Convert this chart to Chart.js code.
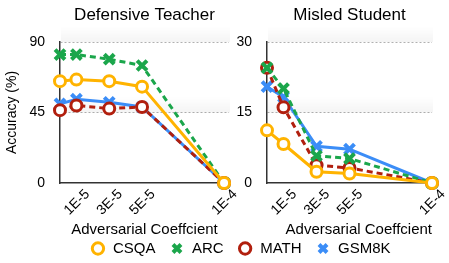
<!DOCTYPE html>
<html>
<head>
<meta charset="utf-8">
<script src="https://cdn.jsdelivr.net/npm/chart.js@4.4.0/dist/chart.umd.min.js"></script>
<style>
  body { margin: 0; background: #fff; width: 449px; height: 263px; position: relative; overflow: hidden; }
  canvas { position: absolute; }
  #teacher { left: 0; top: 0; }
  #student { left: 228px; top: 0; }
  #legend { left: 0; top: 227px; }
</style>
</head>
<body>
<canvas id="teacher" width="240" height="240"></canvas>
<canvas id="student" width="221" height="240"></canvas>
<canvas id="legend" width="449" height="80"></canvas>
<script>
// x positions of the points and the labelled ticks
const xValues = [0, 1e-5, 3e-5, 5e-5, 1e-4];
const xTickValues = [1e-5, 3e-5, 5e-5, 1e-4];
const xTickLabels = ['1E-5', '3E-5', '5E-5', '1E-4'];
const seriesNames = ['CSQA', 'ARC', 'MATH', 'GSM8K'];

// Defensive Teacher
const teacherTicks = [0, 45, 90];
const teacherCsqa = [65, 66, 65, 61.5, 0];
const teacherArc = [82, 82, 79, 75, 0];
const teacherMath = [46.5, 49.5, 47.5, 48.5, 0];
const teacherGsm = [50.5, 53.5, 51.5, 48.5, 0];

// Misled Student
const studentTicks = [0, 15, 30];
const studentCsqa = [11.2, 8.3, 2.4, 2.0, 0];
const studentArc = [24.5, 20.1, 5.8, 5.2, 0];
const studentMath = [24.5, 16.1, 3.8, 3.2, 0];
const studentGsm = [20.5, 18.3, 7.8, 7.2, 0];

const FONT = "'Liberation Sans', Arial, Helvetica, sans-serif";
Chart.defaults.font.family = FONT;
Chart.defaults.color = '#000';

const seriesStyle = {
    CSQA:  { color: '#FFB300', dash: [], point: 'circle' },
    ARC:   { color: '#1BA64B', dash: [6, 4], point: 'crossRot' },
    MATH:  { color: '#B11F0E', dash: [6, 4], point: 'circle' },
    GSM8K: { color: '#3B8DF7', dash: [], point: 'crossRot' }
};

// faint grey shading just above each grid line, as in the original figure
const gridShade = {
    id: 'gridShade',
    beforeDatasetsDraw(chart) {
        const { ctx, chartArea, scales } = chart;
        const y = scales.y;
        ctx.save();
        y.ticks.forEach(t => {
            if (t.value <= 0) return;
            const py = y.getPixelForValue(t.value);
            const g = ctx.createLinearGradient(0, py - 16, 0, py);
            g.addColorStop(0, 'rgba(0,0,0,0)');
            g.addColorStop(1, 'rgba(0,0,0,0.045)');
            ctx.fillStyle = g;
            ctx.fillRect(chartArea.left + 1, py - 16, chartArea.right - chartArea.left, 16);
        });
        ctx.restore();
    }
};

function makeDataset(name, values) {
    const st = seriesStyle[name];
    const isCircle = st.point === 'circle';
    return {
        label: name,
        data: xValues.map((x, i) => ({ x: x, y: values[i] })),
        borderColor: st.color,
        borderWidth: 3,
        borderDash: st.dash,
        pointStyle: st.point,
        pointRadius: isCircle ? 5.5 : 7,
        pointBorderWidth: isCircle ? 3 : 4,
        pointBorderColor: st.color,
        pointBackgroundColor: isCircle ? '#fff' : st.color,
        tension: 0,
        clip: false
    };
}

function makeChart(id, title, series, yTicks, opts) {
    const ctx = document.getElementById(id).getContext('2d');
    return new Chart(ctx, {
        type: 'line',
        data: {
            datasets: seriesNames.map((n, i) => makeDataset(n, series[i]))
        },
        plugins: [gridShade],
        options: {
            responsive: false,
            animation: false,
            devicePixelRatio: 1,
            layout: { padding: { left: 0, right: opts.padRight, top: 0, bottom: 0 } },
            scales: {
                x: {
                    type: 'linear',
                    min: 0,
                    max: opts.xMax,
                    afterBuildTicks: s => { s.ticks = xTickValues.map(v => ({ value: v })); },
                    afterFit: s => { s.height = 57; },
                    grid: { display: false, drawTicks: false },
                    border: { display: true, color: '#333', width: 1.5 },
                    ticks: {
                        autoSkip: false,
                        minRotation: 45,
                        maxRotation: 45,
                        padding: 3,
                        labelOffset: 11,
                        font: { size: 14 },
                        callback: (v, i) => xTickLabels[i]
                    },
                    title: {
                        display: true,
                        text: 'Adversarial Coeffcient',
                        align: opts.xTitleAlign,
                        font: { size: 15 },
                        padding: { top: 0, bottom: 1 }
                    }
                },
                y: {
                    min: 0,
                    max: yTicks[yTicks.length - 1],
                    afterBuildTicks: s => { s.ticks = yTicks.map(v => ({ value: v })); },
                    afterFit: s => { s.width = opts.yWidth; },
                    grid: {
                        drawTicks: false,
                        color: c => (c.tick && c.tick.value > 0) ? '#b0b0b0' : 'rgba(0,0,0,0)',
                        lineWidth: 1
                    },
                    border: { display: true, color: '#333', width: 1.5, dash: [2, 2] },
                    ticks: { padding: 15, font: { size: 14 } },
                    title: {
                        display: opts.yTitle,
                        text: 'Accuracy (%)',
                        font: { size: 14 },
                        padding: { top: 4, bottom: 0 }
                    }
                }
            },
            plugins: {
                legend: { display: false },
                tooltip: { enabled: false },
                title: {
                    display: true,
                    text: title,
                    fullSize: false,
                    color: '#000',
                    font: { size: 17, weight: 'normal' },
                    padding: { top: 5, bottom: 16.6 }
                }
            }
        }
    });
}

makeChart('teacher', 'Defensive Teacher',
    [teacherCsqa, teacherArc, teacherMath, teacherGsm], teacherTicks,
    { padRight: 11, xMax: 1.03e-4, yWidth: 60, yTitle: true, xTitleAlign: 'center' });

makeChart('student', 'Misled Student',
    [studentCsqa, studentArc, studentMath, studentGsm], studentTicks,
    { padRight: 17, xMax: 1e-4, yWidth: 39, yTitle: false, xTitleAlign: 'end' });

// shared legend below both panels
new Chart(document.getElementById('legend').getContext('2d'), {
    type: 'line',
    data: {
        datasets: seriesNames.map(n => makeDataset(n, []))
    },
    options: {
        responsive: false,
        animation: false,
        devicePixelRatio: 1,
        layout: { padding: { left: 32 } },
        scales: { x: { display: false }, y: { display: false } },
        plugins: {
            tooltip: { enabled: false },
            legend: {
                display: true,
                position: 'top',
                labels: {
                    usePointStyle: true,
                    boxHeight: 8,
                    padding: 14,
                    color: '#000',
                    font: { size: 15 }
                }
            }
        }
    }
});
</script>
</body>
</html>
